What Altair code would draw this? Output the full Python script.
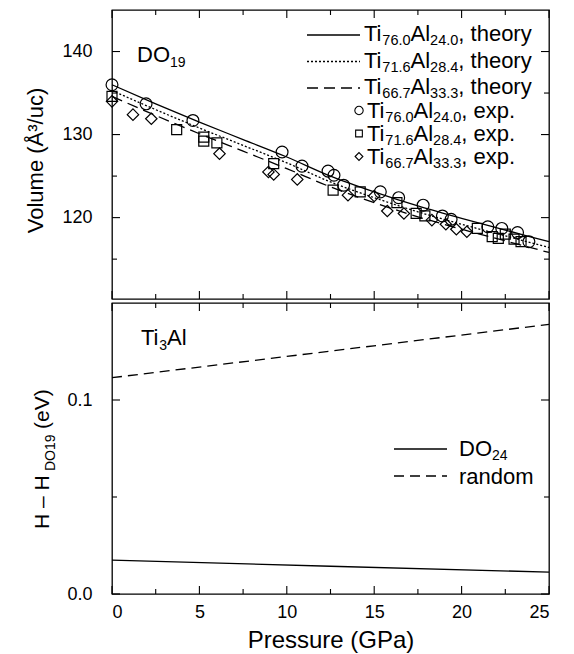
import altair as alt
import pandas as pd

# ---------------- data ----------------
P_THEORY = [0, 2.5, 5, 7.5, 10, 12.5, 15, 17.5, 20, 22.5, 25]
V_TH_760 = [136.0, 133.7, 131.5, 129.4, 127.3, 125.0, 123.1, 121.4, 119.9, 118.5, 117.1]
V_TH_716 = [135.3, 133.0, 130.8, 128.7, 126.6, 124.3, 122.4, 120.7, 119.2, 117.8, 116.4]
V_TH_667 = [134.6, 132.3, 130.1, 128.0, 125.9, 123.7, 121.8, 120.1, 118.6, 117.2, 115.8]

P_EXP_760 = [0, 1.95, 4.63, 9.73, 10.87, 12.36, 12.7, 13.25, 15.35, 16.4, 17.8, 18.9, 19.4, 21.5, 22.3, 23.2, 23.85]
V_EXP_760 = [136.0, 133.7, 131.7, 127.9, 126.2, 125.6, 125.1, 123.9, 123.1, 122.4, 121.5, 120.2, 119.8, 118.9, 118.7, 118.2, 117.1]
P_EXP_716 = [0, 3.7, 5.25, 5.25, 6.0, 9.25, 12.65, 14.2, 16.3, 17.4, 17.9, 20.9, 21.75, 22.1, 22.5, 23.0, 23.4]
V_EXP_716 = [134.6, 130.6, 129.7, 129.2, 129.0, 126.5, 123.3, 123.1, 121.8, 120.5, 120.2, 118.7, 117.7, 117.5, 118.0, 117.4, 117.1]
P_EXP_667 = [0, 1.2, 2.25, 6.15, 8.95, 9.25, 10.6, 13.5, 15.0, 15.75, 16.7, 18.3, 19.1, 19.7, 20.3]
V_EXP_667 = [134.0, 132.4, 131.9, 127.7, 125.5, 125.2, 124.6, 122.7, 122.6, 120.8, 120.5, 119.7, 119.2, 118.6, 118.3]

P_H = [0, 12.5, 25]
H_DO24 = [0.0175, 0.0143, 0.0113]
H_RANDOM = [0.1115, 0.1252, 0.139]

X_MAJOR = [0, 5, 10, 15, 20, 25]
X_MINOR = [2.5, 7.5, 12.5, 17.5, 22.5]
VOL_MAJOR = [120, 130, 140]
VOL_MINOR = [115, 125, 135]
H_MAJOR = [0.0, 0.1]
H_MINOR = [0.05]

COMPOSITIONS = [("76.0", "24.0"), ("71.6", "28.4"), ("66.7", "33.3")]
KINDS = [", theory", ", exp."]
BOTTOM_LEGEND = [[("DO", 0), ("24", 1)], [("random", 0)]]

# ---------------- layout ----------------
W = 437
H_TOP = 289
H_BOT = 291
FONT = "Liberation Sans"
X_DOM = [0, 25]
VOL_DOM = [110.2, 145.0]
H_DOM = [0.0, 0.15]
DOTTED = [2, 2]
DASHED = [11, 6]

CHAR_W = {"T": .611, "i": .222, "A": .667, "l": .222, ".": .278, ",": .278, " ": .278,
          "t": .278, "h": .556, "e": .556, "o": .556, "r": .333, "y": .5, "x": .5,
          "p": .556, "D": .722, "O": .778, "a": .556, "n": .556, "d": .556, "m": .833}


def text_w(s, fs):
    return sum(CHAR_W.get(c, .556) for c in s) * fs


def rich_text(segments, x0, yb, fs, sub_fs, sub_dy):
    out = []
    x = x0
    for txt, sub in segments:
        size = sub_fs if sub else fs
        out.append(alt.Chart().mark_text(align="left", baseline="alphabetic", fontSize=size,
                                         font=FONT, color="black").encode(
            x=alt.value(x), y=alt.value(yb + (sub_dy if sub else 0)), text=alt.value(txt)))
        x += text_w(txt, size)
    return out


xs = alt.Scale(domain=X_DOM, nice=False, zero=False)
ys_top = alt.Scale(domain=VOL_DOM, nice=False, zero=False)
ys_bot = alt.Scale(domain=H_DOM, nice=False, zero=False)

AX_X_TOP = alt.Axis(labels=False, title=None)
AX_Y_TOP = alt.Axis(values=VOL_MAJOR, labelPadding=20, title="Volume (Å³/uc)",
                    titleFontSize=22, titleFontWeight="normal", titlePadding=14, titleY=150)
AX_X_BOT = alt.Axis(values=X_MAJOR, labelPadding=9, title="Pressure (GPa)",
                    titleFontSize=24, titleFontWeight="normal", titlePadding=7)
AX_Y_BOT = alt.Axis(values=H_MAJOR, format=".1f", labelPadding=20, title=None)


def tick_layers(xaxis, yaxis, yvals_major, yvals_minor, yscale, height):
    layers = []
    for vals, ln in [(X_MAJOR, 8), (X_MINOR, 5)]:
        d = pd.DataFrame({"P": vals})
        base = alt.Chart(d).mark_rule(color="black", strokeWidth=1.1)
        layers.append(base.encode(x=alt.X("P:Q", scale=xs, axis=xaxis),
                                  y=alt.value(0), y2=alt.value(ln)))
        layers.append(base.encode(x=alt.X("P:Q", scale=xs, axis=xaxis),
                                  y=alt.value(height - ln), y2=alt.value(height)))
    for vals, ln in [(yvals_major, 8), (yvals_minor, 5)]:
        d = pd.DataFrame({"V": vals})
        base = alt.Chart(d).mark_rule(color="black", strokeWidth=1.1)
        layers.append(base.encode(y=alt.Y("V:Q", scale=yscale, axis=yaxis),
                                  x=alt.value(0), x2=alt.value(ln)))
        layers.append(base.encode(y=alt.Y("V:Q", scale=yscale, axis=yaxis),
                                  x=alt.value(W - ln), x2=alt.value(W)))
    return layers


# ---------------- top panel ----------------
theory = pd.DataFrame({"P": P_THEORY, "v760": V_TH_760, "v716": V_TH_716, "v667": V_TH_667})
x_top = alt.X("P:Q", scale=xs, axis=AX_X_TOP)


def theory_line(col, dash):
    kw = dict(color="black", strokeWidth=1.3, interpolate="monotone")
    if dash:
        kw["strokeDash"] = dash
    return alt.Chart(theory).mark_line(**kw).encode(
        x=x_top, y=alt.Y(f"{col}:Q", scale=ys_top, axis=AX_Y_TOP))


def exp_points(P, V, shape, size):
    d = pd.DataFrame({"P": P, "V": V})
    return alt.Chart(d).mark_point(shape=shape, size=size, color="black", filled=False,
                                   strokeWidth=1.2, opacity=1).encode(
        x=x_top, y=alt.Y("V:Q", scale=ys_top, axis=AX_Y_TOP))


top_layers = [
    theory_line("v760", None),
    theory_line("v716", DOTTED),
    theory_line("v667", DASHED),
    exp_points(P_EXP_760, V_EXP_760, "circle", 140),
    exp_points(P_EXP_716, V_EXP_716, "square", 100),
    exp_points(P_EXP_667, V_EXP_667, "diamond", 130),
]
top_layers += tick_layers(AX_X_TOP, AX_Y_TOP, VOL_MAJOR, VOL_MINOR, ys_top, H_TOP)

# panel label DO19
top_layers += rich_text([("DO", 0), ("19", 1)], 25, 52, 22, 14, 5)

# legend
leg_base = [31, 57.5, 84, 108, 131, 154]
dashes = [None, DOTTED, DASHED]
for i in range(3):
    kw = dict(color="black", strokeWidth=1.3)
    if dashes[i]:
        kw["strokeDash"] = dashes[i]
    top_layers.append(alt.Chart().mark_rule(**kw).encode(
        x=alt.value(195), x2=alt.value(248), y=alt.value(leg_base[i] - 6)))
shapes = [("circle", 70), ("square", 45), ("diamond", 60)]
for i in range(3):
    sh, sz = shapes[i]
    top_layers.append(alt.Chart().mark_point(shape=sh, size=sz, color="black", filled=False,
                                             strokeWidth=1.1, opacity=1).encode(
        x=alt.value(247), y=alt.value(leg_base[3 + i] - 7.5)))
for k, kind in enumerate(KINDS):
    for j, (c1, c2) in enumerate(COMPOSITIONS):
        row = 3 * k + j
        segs = [("Ti", 0), (c1, 1), ("Al", 0), (c2, 1), (kind, 0)]
        top_layers += rich_text(segs, 252 if k == 0 else 255, leg_base[row], 22, 14.5, 4)

top = alt.layer(*top_layers).properties(width=W, height=H_TOP)

# ---------------- bottom panel ----------------
hdf = pd.DataFrame({"P": P_H, "do24": H_DO24, "random": H_RANDOM})
x_bot = alt.X("P:Q", scale=xs, axis=AX_X_BOT)

bot_layers = [
    alt.Chart(hdf).mark_line(color="black", strokeWidth=1.3).encode(
        x=x_bot, y=alt.Y("do24:Q", scale=ys_bot, axis=AX_Y_BOT)),
    alt.Chart(hdf).mark_line(color="black", strokeWidth=1.3, strokeDash=[10, 6]).encode(
        x=x_bot, y=alt.Y("random:Q", scale=ys_bot, axis=AX_Y_BOT)),
]
bot_layers += tick_layers(AX_X_BOT, AX_Y_BOT, H_MAJOR, H_MINOR, ys_bot, H_BOT)

bot_layers += rich_text([("Ti", 0), ("3", 1), ("Al", 0)], 29, 42, 22, 14, 5)

bl_base = [153, 181]
bot_layers.append(alt.Chart().mark_rule(color="black", strokeWidth=1.3).encode(
    x=alt.value(282), x2=alt.value(335), y=alt.value(146)))
bot_layers.append(alt.Chart().mark_rule(color="black", strokeWidth=1.3, strokeDash=[10, 6]).encode(
    x=alt.value(282), x2=alt.value(335), y=alt.value(173)))
for i, segs in enumerate(BOTTOM_LEGEND):
    bot_layers += rich_text(segs, 347, bl_base[i], 22, 14, 4)

title_parts = [("H – H", 21, -69, 226), ("DO19", 14, -61, 168), ("(eV)", 21, -69, 126)]
for txt, fs, xx, yy in title_parts:
    bot_layers.append(alt.Chart().mark_text(align="left", baseline="middle", angle=270,
                                            fontSize=fs, font=FONT).encode(
        x=alt.value(xx), y=alt.value(yy), text=alt.value(txt)))

bottom = alt.layer(*bot_layers).properties(width=W, height=H_BOT)

chart = alt.vconcat(top, bottom, spacing=0).properties(
    padding={"left": 16, "top": 0, "right": 5, "bottom": 0}
).configure_view(stroke="black", strokeWidth=1.3).configure_axis(
    domain=False, ticks=False, grid=False, labelFontSize=18, labelColor="black",
    titleColor="black", labelFont=FONT, titleFont=FONT
).configure_text(font=FONT)

chart.save("out.html", embed_options={"renderer": "svg", "actions": False})
